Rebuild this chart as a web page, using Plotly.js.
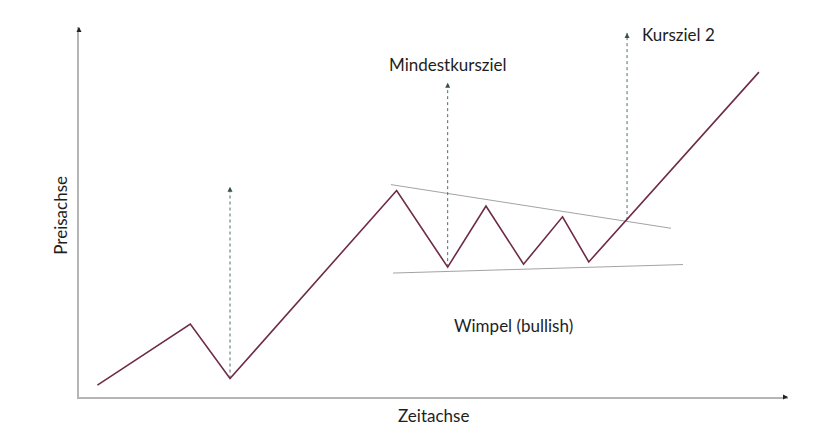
<!DOCTYPE html>
<html>
<head>
<meta charset="utf-8">
<script src="https://cdn.plot.ly/plotly-3.0.1.min.js"></script>
<style>html,body{margin:0;padding:0;background:#fff;}#chart{width:840px;height:446px;}</style>
</head>
<body>
<div id="chart"></div>
<script>
// Price path (time, price) in schematic units
const time  = [2.6, 15.7, 21.3, 44.8, 52.0, 57.4, 62.7, 68.2, 71.9, 95.9];
const price = [3.2, 19.7, 5.0, 55.8, 35.1, 51.6, 35.9, 48.7, 36.5, 87.8];

// Pennant boundary lines
const upperTime  = [44.0, 83.5];
const upperPrice = [57.4, 45.6];
const lowerTime  = [44.3, 85.2];
const lowerPrice = [33.5, 35.8];

// Target arrows (dashed): time, start price, end price
const targetTime  = [21.3, 52.0, 77.3];
const targetFrom  = [5.0, 35.1, 47.8];
const targetTo    = [56.8, 84.9, 98.4];

// Labels
const labelText  = ["Mindestkursziel", "Kursziel 2", "Wimpel (bullish)"];
const labelTime  = [52.05, 79.1, 52.6];
const labelPrice = [90.0, 98.1, 19.2];
const labelAnchor = ["center", "left", "left"];

const xTitle = "Zeitachse";
const yTitle = "Preisachse";

const font = {family: "Lato, 'Open Sans', sans-serif", size: 17, color: "#1e1e1e"};

const traces = [
  {x: upperTime, y: upperPrice, mode: "lines", line: {color: "#a3a3a3", width: 1}, hoverinfo: "skip"},
  {x: lowerTime, y: lowerPrice, mode: "lines", line: {color: "#a3a3a3", width: 1}, hoverinfo: "skip"}
];
targetTime.forEach((t, i) => {
  traces.push({x: [t, t], y: [targetFrom[i], targetTo[i]], mode: "lines",
    line: {color: "#4f6b6b", width: 1, dash: "3px,3px"}, hoverinfo: "skip"});
});
traces.push({x: time, y: price, mode: "lines", line: {color: "#6e2b48", width: 1.6}, hoverinfo: "skip"});

const annotations = [];
targetTime.forEach((t, i) => {
  annotations.push({x: t, y: targetTo[i], xref: "x", yref: "y", text: "", showarrow: true,
    ax: 0, ay: 4, arrowhead: 2, arrowsize: 1, arrowwidth: 1, arrowcolor: "#34504f"});
});
labelText.forEach((s, i) => {
  annotations.push({x: labelTime[i], y: labelPrice[i], xref: "x", yref: "y", text: s,
    showarrow: false, xanchor: labelAnchor[i], yanchor: "middle", font: font});
});
// axis arrowheads
annotations.push({x: 0, y: 1, xref: "paper", yref: "paper", text: "", showarrow: true,
  ax: 0, ay: 4, arrowhead: 2, arrowsize: 1, arrowwidth: 1, arrowcolor: "#222"});
annotations.push({x: 1, y: 0, xref: "paper", yref: "paper", text: "", showarrow: true,
  ax: -4, ay: 0, arrowhead: 2, arrowsize: 1, arrowwidth: 1, arrowcolor: "#222"});
// axis titles
annotations.push({x: 0.5, y: 0, xref: "paper", yref: "paper", text: xTitle, showarrow: false,
  xanchor: "center", yanchor: "middle", yshift: -18, font: font});
annotations.push({x: 0, y: 0.49, xref: "paper", yref: "paper", text: yTitle, showarrow: false,
  xanchor: "center", yanchor: "middle", xshift: -18, textangle: -90, font: font});

const layout = {
  width: 840, height: 446,
  margin: {l: 79, r: 52, t: 27, b: 49},
  paper_bgcolor: "#fff", plot_bgcolor: "#fff",
  showlegend: false,
  xaxis: {range: [0, 100], showgrid: false, zeroline: false, showticklabels: false, ticks: "",
    showline: true, linecolor: "#b5b5b5", linewidth: 2, fixedrange: true},
  yaxis: {range: [0, 100], showgrid: false, zeroline: false, showticklabels: false, ticks: "",
    showline: true, linecolor: "#b5b5b5", linewidth: 2, fixedrange: true},
  annotations: annotations
};

Plotly.newPlot("chart", traces, layout, {staticPlot: true, displayModeBar: false});
</script>
</body>
</html>
